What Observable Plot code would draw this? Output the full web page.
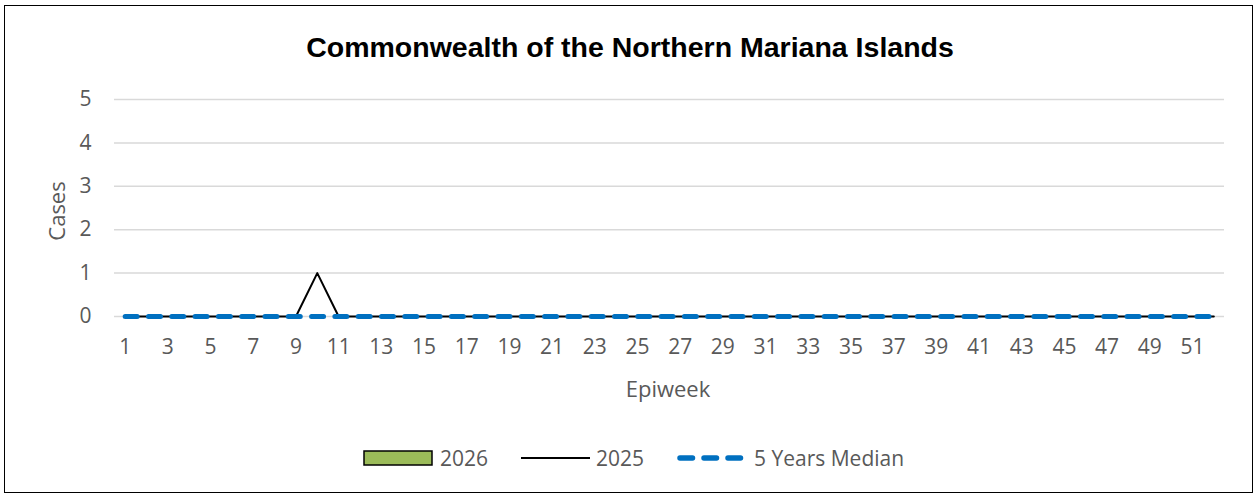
<!DOCTYPE html>
<html>
<head>
<meta charset="utf-8">
<script src="https://cdn.jsdelivr.net/npm/d3@7"></script>
<script src="https://cdn.jsdelivr.net/npm/@observablehq/plot@0.6"></script>
<style>
  html, body { margin: 0; padding: 0; background: #fff; }
  body { width: 1255px; height: 496px; position: relative; overflow: hidden; font-family: "Open Sans", sans-serif; }
  #frame { position: absolute; left: 4px; top: 5px; width: 1249px; height: 488px; border: 1.5px solid #000; box-sizing: border-box; }
  #chart { position: absolute; left: 0; top: 0; }
  .txt { position: absolute; white-space: nowrap; line-height: 1; transform: translate(-50%, -50%); }
  #title { left: 630px; top: 47px; font-family: "Liberation Sans", Arial, sans-serif; font-weight: bold; font-size: 28.5px; color: #000; }
  #xlabel { left: 668px; top: 388px; font-size: 22px; color: #595959; }
  #ylabel { left: 56px; top: 211px; font-size: 22px; color: #595959; transform: translate(-50%, -50%) rotate(-90deg); }
  #legend { position: absolute; left: 0; top: 0; width: 1255px; height: 496px; pointer-events: none; }
  .leg { position: absolute; top: 458px; transform: translateY(-50%); font-size: 21px; color: #595959; line-height: 1; white-space: nowrap; }
</style>
</head>
<body>
<div id="frame"></div>
<div id="chart"></div>
<div id="title" class="txt">Commonwealth of the Northern Mariana Islands</div>
<div id="xlabel" class="txt">Epiweek</div>
<div id="ylabel" class="txt">Cases</div>
<div id="legend"></div>
<script>
// ---- Data ----
const weeks = [1,2,3,4,5,6,7,8,9,10,11,12,13,14,15,16,17,18,19,20,21,22,23,24,25,26,27,28,29,30,31,32,33,34,35,36,37,38,39,40,41,42,43,44,45,46,47,48,49,50,51,52];
const cases2025 = [0,0,0,0,0,0,0,0,0,1,0,0,0,0,0,0,0,0,0,0,0,0,0,0,0,0,0,0,0,0,0,0,0,0,0,0,0,0,0,0,0,0,0,0,0,0,0,0,0,0,0,0];
const median5y = [0,0,0,0,0,0,0,0,0,0,0,0,0,0,0,0,0,0,0,0,0,0,0,0,0,0,0,0,0,0,0,0,0,0,0,0,0,0,0,0,0,0,0,0,0,0,0,0,0,0,0,0];
const weeks2026 = [1,2,3,4,5];
const cases2026 = [0,0,0,0,0];
const xTickLabels = [1,3,5,7,9,11,13,15,17,19,21,23,25,27,29,31,33,35,37,39,41,43,45,47,49,51];
const yTicks = [0,1,2,3,4,5];
const seriesNames = ["2026", "2025", "5 Years Median"];
const seriesColors = { "2026": "#9BBB59", "2025": "#000000", "5 Years Median": "#0070C0" };

// ---- Tables ----
const data2025 = weeks.map((w, i) => ({ week: w, value: cases2025[i] }));
const dataMedian = weeks.map((w, i) => ({ week: w, value: median5y[i] }));
const data2026 = weeks2026.map((w, i) => ({ week: w, value: cases2026[i] }));

const tickFont = "21px";

const chart = Plot.plot({
  width: 1255,
  height: 496,
  marginTop: 99,
  marginBottom: 180,
  marginLeft: 114,
  marginRight: 31,
  style: { fontFamily: '"Open Sans", sans-serif', fontSize: tickFont, color: "#595959", background: "transparent", overflow: "visible" },
  x: { type: "linear", domain: [weeks[0] - 0.5, weeks[weeks.length - 1] + 0.5], label: null },
  y: { domain: [0, 5], label: null },
  marks: [
    Plot.gridY(yTicks, { stroke: "#d9d9d9", strokeOpacity: 1, strokeWidth: 1.5 }),
    Plot.rectY(data2026, { x1: d => d.week - 0.35, x2: d => d.week + 0.35, y: "value", fill: seriesColors["2026"], stroke: "#000" }),
    Plot.lineY(data2025, { x: "week", y: "value", stroke: seriesColors["2025"], strokeWidth: 2 }),
    Plot.lineY(dataMedian, { x: "week", y: "value", stroke: seriesColors["5 Years Median"], strokeWidth: 5, strokeDasharray: "12 11.3", strokeLinecap: "round" }),
    Plot.axisX({ ticks: xTickLabels, tickFormat: "d", tickSize: 0, tickPadding: 23, fontSize: tickFont, fill: "#595959", label: null }),
    Plot.axisY({ ticks: yTicks, tickFormat: "d", tickSize: 0, tickPadding: 23, fontSize: tickFont, fill: "#595959", label: null })
  ]
});
document.getElementById("chart").appendChild(chart);

// ---- Legend ----
const legend = document.getElementById("legend");
const items = [
  { name: seriesNames[0], swatchLeft: 363, textLeft: 440, svg: `<svg width="70" height="18"><rect x="1" y="2" width="68" height="14" fill="${seriesColors["2026"]}" stroke="#000" stroke-width="1.5"/></svg>` },
  { name: seriesNames[1], swatchLeft: 521, textLeft: 596, svg: `<svg width="70" height="18"><line x1="0" y1="9" x2="69" y2="9" stroke="${seriesColors["2025"]}" stroke-width="2"/></svg>` },
  { name: seriesNames[2], swatchLeft: 674, textLeft: 754, svg: `<svg width="72" height="18"><line x1="6" y1="9" x2="67" y2="9" stroke="${seriesColors["5 Years Median"]}" stroke-width="5.5" stroke-dasharray="12.5 11.5" stroke-linecap="round"/></svg>` }
];
for (const it of items) {
  const sw = document.createElement("div");
  sw.className = "leg";
  sw.style.left = it.swatchLeft + "px";
  sw.innerHTML = it.svg;
  sw.style.lineHeight = "0";
  legend.appendChild(sw);
  const t = document.createElement("div");
  t.className = "leg";
  t.style.left = it.textLeft + "px";
  t.textContent = it.name;
  legend.appendChild(t);
}
</script>
</body>
</html>
